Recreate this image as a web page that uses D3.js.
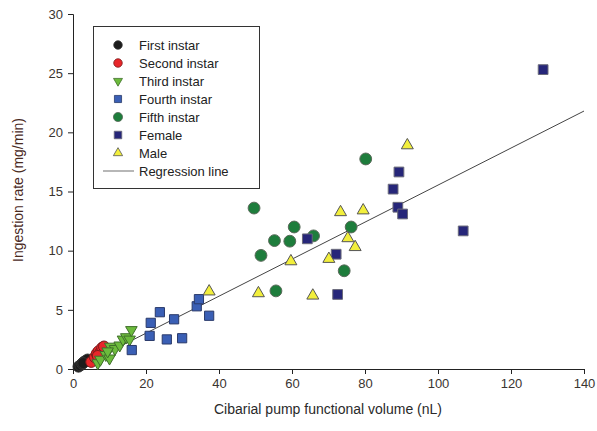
<!DOCTYPE html>
<html><head><meta charset="utf-8">
<script src="https://cdn.jsdelivr.net/npm/d3@7"></script>
<style>body{margin:0;background:#fff}svg{display:block;font-family:"Liberation Sans",Arial,sans-serif}</style>
</head><body><svg id="c" width="597" height="431"></svg>
<script>
const xTicks = [0,20,40,60,80,100,120,140];
const yTicks = [0,5,10,15,20,25,30];
const firstInstar = [[1.5,0.2],[2,0.3],[2.5,0.45],[3,0.6],[3.5,0.7],[4,0.8],[2.8,0.5]];
const secondInstar = [[5.0,0.6],[6.0,1.0],[6.5,1.3],[7.0,1.5],[7.5,1.4],[8.0,1.8],[8.5,1.9],[6.8,1.1]];
const thirdInstar = [[6.8,0.5],[7.5,0.8],[9,1.2],[10,0.9],[10.2,1.9],[11.5,1.7],[12.8,2.0],[13.7,2.5],[14.6,2.7],[15.5,2.5],[16.0,3.3],[9.5,1.5]];
const fourthInstar = [[16.1,1.6],[21.0,2.8],[21.3,3.9],[23.8,4.8],[25.7,2.5],[27.7,4.2],[29.9,2.6],[33.9,5.3],[34.5,5.9],[37.3,4.5]];
const fifthInstar = [[49.6,13.6],[51.5,9.6],[55.2,10.85],[55.6,6.6],[59.4,10.8],[60.6,12.0],[65.9,11.25],[74.3,8.3],[76.2,12.0],[80.2,17.75]];
const female = [[64.2,11.0],[72.1,9.7],[72.5,6.3],[87.7,15.2],[89.3,16.65],[89.0,13.67],[90.3,13.1],[106.9,11.67],[128.8,25.3]];
const male = [[37.3,6.55],[50.8,6.4],[59.7,9.1],[65.7,6.2],[70.1,9.3],[73.3,13.25],[75.3,11.05],[77.3,10.3],[79.5,13.4],[91.6,18.9]];
const regression = [[1.5,0.13],[140,21.8]];
const seriesNames = ["First instar","Second instar","Third instar","Fourth instar","Fifth instar","Female","Male"];

const series = [
  {name:seriesNames[0], data:firstInstar, shape:d3.symbolCircle, fill:"#1c1c1c", stroke:"#333", size:95},
  {name:seriesNames[1], data:secondInstar, shape:d3.symbolCircle, fill:"#e8262a", stroke:"#7a1a1a", size:95},
  {name:seriesNames[2], data:thirdInstar, shape:d3.symbolTriangle, fill:"#6cbb3c", stroke:"#3f6f2a", size:58, flip:true},
  {name:seriesNames[3], data:fourthInstar, shape:d3.symbolSquare, fill:"#3a5fb5", stroke:"#2a3a6a", size:85},
  {name:seriesNames[4], data:fifthInstar, shape:d3.symbolCircle, fill:"#1e7d3c", stroke:"#5a6a5a", size:110},
  {name:seriesNames[5], data:female, shape:d3.symbolSquare, fill:"#262679", stroke:"#6a6a7a", size:95},
  {name:seriesNames[6], data:male, shape:d3.symbolTriangle, fill:"#f2ef3c", stroke:"#555", size:62}
];

const svg = d3.select("#c");
const x = d3.scaleLinear().domain([0,140]).range([73,584]);
const y = d3.scaleLinear().domain([0,30]).range([369,14]);

const ax = svg.append("g").attr("transform","translate(0,369)")
  .call(d3.axisBottom(x).tickValues(xTicks).tickSize(5).tickPadding(5));
const ay = svg.append("g").attr("transform","translate(73,0)")
  .call(d3.axisLeft(y).tickValues(yTicks).tickSize(5).tickPadding(5));
[ax,ay].forEach(g=>{
  g.select(".domain").attr("stroke","#222");
  g.selectAll(".tick line").attr("stroke","#222");
  g.selectAll(".tick text").attr("fill","#3a3530").style("font-size","13px").style("font-family","'Liberation Sans',Arial,sans-serif");
});

svg.append("text").attr("x",328).attr("y",414).attr("text-anchor","middle")
  .style("font-size","14px").attr("fill","#2a2a2a").text("Cibarial pump functional volume (nL)");
svg.append("text").attr("transform","translate(23,190) rotate(-90)").attr("text-anchor","middle")
  .style("font-size","14px").attr("fill","#4a2a1e").text("Ingestion rate (mg/min)");

svg.append("line")
  .attr("x1",x(regression[0][0])).attr("y1",y(regression[0][1]))
  .attr("x2",x(regression[1][0])).attr("y2",y(regression[1][1]))
  .attr("stroke","#444").attr("stroke-width",1);

series.forEach(s=>{
  const sym = d3.symbol().type(s.shape).size(s.size);
  svg.append("g").selectAll("path").data(s.data).join("path")
    .attr("d",sym)
    .attr("transform",d=>`translate(${x(d[0])},${y(d[1])})${s.flip?" rotate(180)":""}`)
    .attr("fill",s.fill).attr("stroke",s.stroke).attr("stroke-width",1);
});

// legend
const lg = svg.append("g");
lg.append("rect").attr("x",93.5).attr("y",26.5).attr("width",166).attr("height",162)
  .attr("fill","#fff").attr("stroke","#333").attr("stroke-width",1);
series.forEach((s,i)=>{
  const yy = 45 + i*18;
  const sym = d3.symbol().type(s.shape).size(s.size*0.6);
  lg.append("path").attr("d",sym)
    .attr("transform",`translate(118,${yy})${s.flip?" rotate(180)":""}`)
    .attr("fill",s.fill).attr("stroke",s.stroke).attr("stroke-width",0.8);
  lg.append("text").attr("x",139).attr("y",yy+4.5).style("font-size","13px").attr("fill","#222").text(s.name);
});
const ry = 45 + 7*18;
lg.append("line").attr("x1",103).attr("x2",134).attr("y1",ry).attr("y2",ry).attr("stroke","#888").attr("stroke-width",1.2);
lg.append("text").attr("x",139).attr("y",ry+4.5).style("font-size","13px").attr("fill","#222").text("Regression line");
</script></body></html>
